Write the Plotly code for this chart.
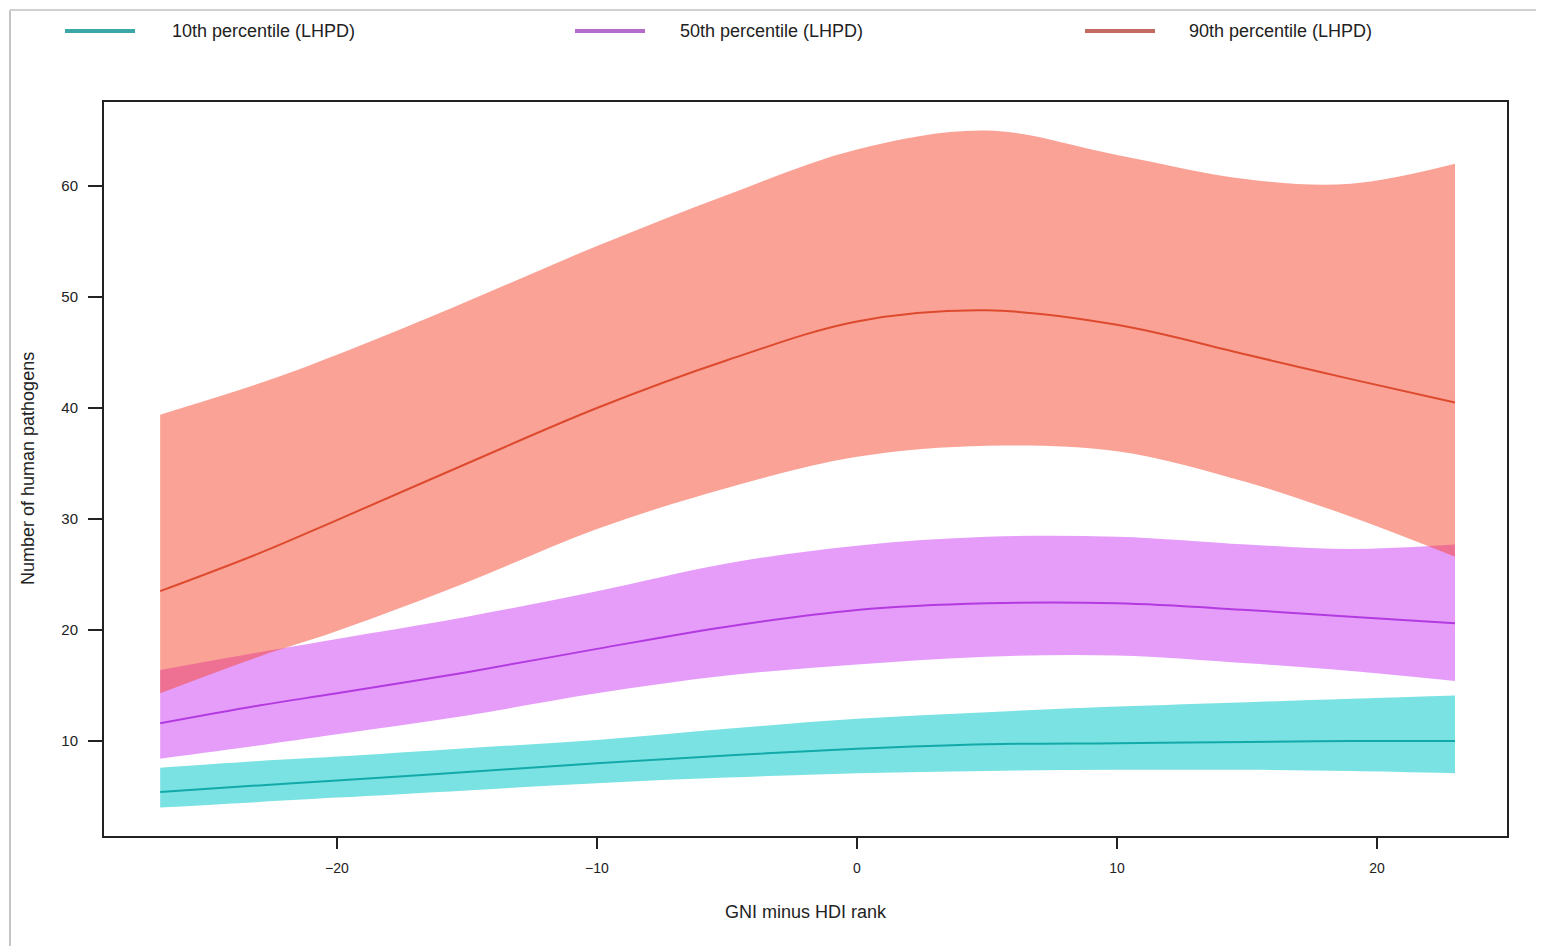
import plotly.graph_objects as go

# ---- data ----
gni_hdi = [-26.8, -23, -20, -15, -10, -5, 0, 5, 10, 15, 19, 23]

p10_mid = [5.4, 6.0, 6.45, 7.2, 8.0, 8.7, 9.3, 9.7, 9.8, 9.9, 10.0, 10.0]
p10_low = [4.0, 4.5, 4.9, 5.55, 6.2, 6.7, 7.1, 7.3, 7.4, 7.4, 7.3, 7.1]
p10_up = [7.6, 8.2, 8.6, 9.35, 10.1, 11.1, 12.0, 12.6, 13.1, 13.5, 13.8, 14.1]

p50_mid = [11.6, 13.2, 14.3, 16.2, 18.3, 20.3, 21.8, 22.4, 22.4, 21.8, 21.2, 20.6]
p50_low = [8.4, 9.6, 10.6, 12.3, 14.3, 15.9, 16.9, 17.6, 17.7, 17.0, 16.3, 15.4]
p50_up = [16.4, 18.0, 19.2, 21.2, 23.5, 26.0, 27.6, 28.4, 28.4, 27.7, 27.3, 27.7]

p90_mid = [23.5, 26.9, 29.9, 35.0, 40.0, 44.3, 47.8, 48.8, 47.5, 44.8, 42.6, 40.5]
p90_low = [14.3, 17.6, 19.9, 24.3, 29.1, 32.8, 35.6, 36.6, 36.1, 33.3, 30.2, 26.6]
p90_up = [39.4, 42.2, 44.8, 49.6, 54.6, 59.2, 63.3, 65.0, 62.8, 60.6, 60.2, 62.0]

series_names = ["10th percentile (LHPD)", "50th percentile (LHPD)", "90th percentile (LHPD)"]
band_colors = ["rgba(0,200,200,0.52)", "rgba(205,60,245,0.5)", "rgba(245,70,45,0.5)"]
line_colors = ["#12aaa8", "#b23ae0", "#dd4a2e"]
legend_colors = ["#3aa8a6", "#b46ccc", "#c46a62"]

FONT = "Liberation Sans, Arial, sans-serif"
TXT = "#222222"

fig = go.Figure()

bands = [(p10_low, p10_up), (p50_low, p50_up), (p90_low, p90_up)]
mids = [p10_mid, p50_mid, p90_mid]

for (lo, up), bc in zip(bands, band_colors):
    fig.add_trace(go.Scatter(x=gni_hdi, y=lo, mode="lines", line=dict(width=0, shape="spline"),
                             showlegend=False, hoverinfo="skip"))
    fig.add_trace(go.Scatter(x=gni_hdi, y=up, mode="lines", line=dict(width=0, shape="spline"),
                             fill="tonexty", fillcolor=bc, showlegend=False, hoverinfo="skip"))

for name, m, lc in zip(series_names, mids, line_colors):
    fig.add_trace(go.Scatter(x=gni_hdi, y=m, mode="lines", name=name,
                             line=dict(color=lc, width=2, shape="spline"), showlegend=False))

# ---- geometry (page has an 8px body margin) ----
OFF = 8
W, H = 1544 - OFF, 946 - OFF
L, T = 104 - OFF, 102 - OFF
R = W - (1507 - OFF)
B = H - (836 - OFF)
pw, ph = W - L - R, H - T - B

def px(xp):
    return (xp - OFF - L) / pw

def py(yp):
    return (H - B - (yp - OFF)) / ph

shapes = []
annotations = []
leg_line_x = [(65, 135), (575, 645), (1085, 1155)]
leg_text_x = [170, 678, 1187]
for name, (a, b), tx, c in zip(series_names, leg_line_x, leg_text_x, legend_colors):
    shapes.append(dict(type="line", xref="paper", yref="paper", x0=px(a), x1=px(b),
                       y0=py(31), y1=py(31), line=dict(color=c, width=4)))
    annotations.append(dict(xref="paper", yref="paper", x=px(tx), y=py(31), text=name,
                            showarrow=False, xanchor="left", yanchor="middle",
                            font=dict(family=FONT, size=18, color=TXT)))

# y-axis title placed as in the reference
annotations.append(dict(xref="paper", yref="paper", x=px(28), y=py(469),
                        text="Number of human pathogens", textangle=-90, showarrow=False,
                        xanchor="center", yanchor="middle",
                        font=dict(family=FONT, size=18, color=TXT)))

# outer screenshot border
shapes.append(dict(type="line", xref="paper", yref="paper", x0=px(10), x1=px(10),
                   y0=py(10), y1=py(960), line=dict(color="#c4c4c4", width=2)))
shapes.append(dict(type="line", xref="paper", yref="paper", x0=px(10), x1=px(1560),
                   y0=py(10), y1=py(10), line=dict(color="#d0d0d0", width=2)))

fig.update_layout(
    width=W, height=H, autosize=False,
    margin=dict(l=L, r=R, t=T, b=B),
    paper_bgcolor="white", plot_bgcolor="white",
    shapes=shapes, annotations=annotations,
    showlegend=False,
    font=dict(family=FONT, color=TXT),
)
fig.update_xaxes(range=[-28.96, 25.0], tickvals=[-20, -10, 0, 10, 20],
                 showgrid=False, zeroline=False, showline=True, linecolor=TXT, linewidth=2,
                 mirror=True, ticks="outside", ticklen=11, tickwidth=1.5, tickcolor=TXT,
                 ticklabelstandoff=7,
                 tickfont=dict(family=FONT, size=14, color=TXT),
                 title=dict(text="GNI minus HDI rank", font=dict(family=FONT, size=18, color=TXT),
                            standoff=31))
fig.update_yaxes(range=[1.44, 67.57], tickvals=[10, 20, 30, 40, 50, 60],
                 showgrid=False, zeroline=False, showline=True, linecolor=TXT, linewidth=2,
                 mirror=True, ticks="outside", ticklen=14, tickwidth=1.5, tickcolor=TXT,
                 ticklabelstandoff=7,
                 tickfont=dict(family=FONT, size=15, color=TXT))

fig.write_html("out.html")
